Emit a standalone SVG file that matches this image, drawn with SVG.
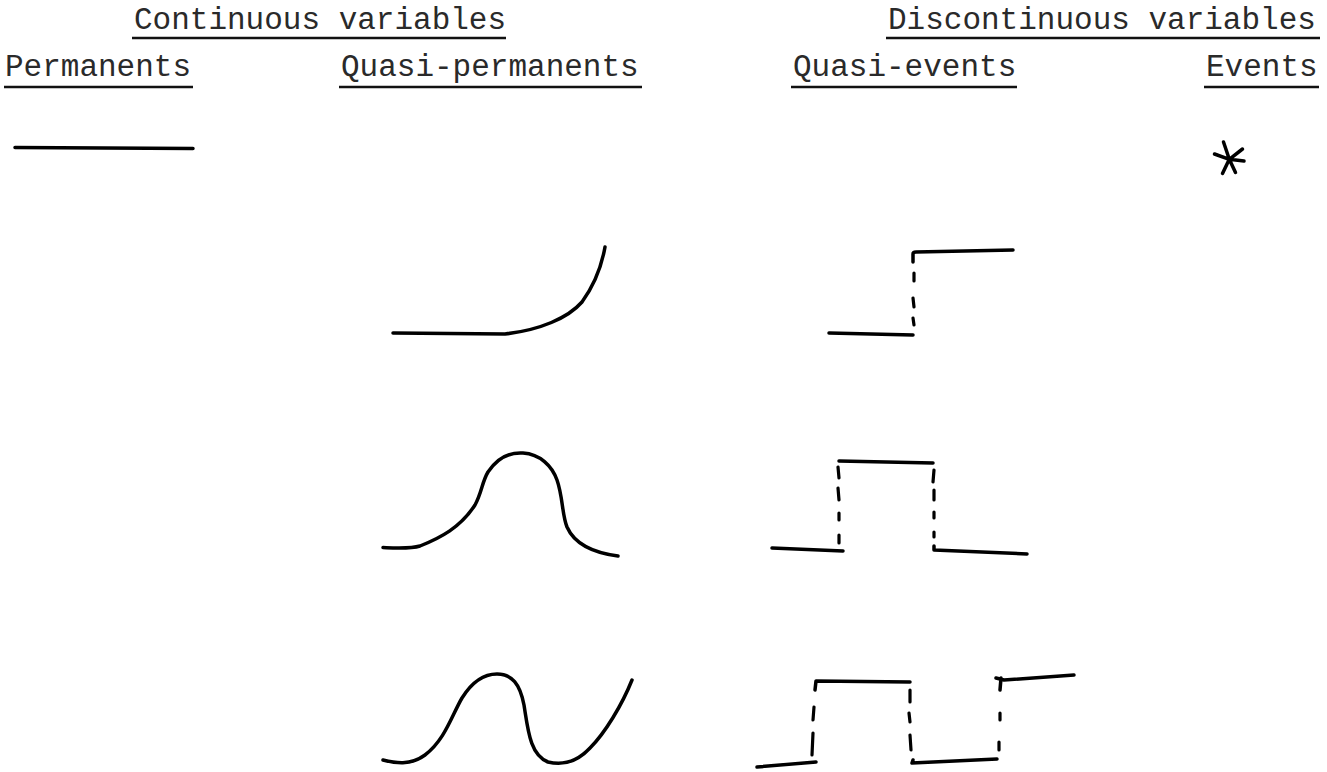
<svg xmlns="http://www.w3.org/2000/svg" width="1327" height="772" viewBox="0 0 1327 772">
<style>
.t{font-family:"Liberation Mono","Courier New",monospace;font-size:31px;fill:#2a2a2a}
.u{stroke:#111;stroke-width:2.6;fill:none}
.c{stroke:#000;stroke-width:3.5;fill:none;stroke-linecap:round;stroke-linejoin:round}
.d{stroke:#000;stroke-width:3.2;fill:none;stroke-linecap:round}
</style>
<rect width="1327" height="772" fill="#fff"/>
<g id="headers">
<text class="t" x="134" y="29">Continuous variables</text>
<line class="u" x1="132" y1="38" x2="506" y2="38"/>
<text class="t" x="888" y="29">Discontinuous variables</text>
<line class="u" x1="886" y1="38" x2="1320" y2="38"/>
<text class="t" x="5" y="76">Permanents</text>
<line class="u" x1="4" y1="87" x2="193" y2="87"/>
<text class="t" x="341" y="76">Quasi-permanents</text>
<line class="u" x1="339" y1="87" x2="642" y2="87"/>
<text class="t" x="793" y="76">Quasi-events</text>
<line class="u" x1="791" y1="87" x2="1017" y2="87"/>
<text class="t" x="1206" y="76">Events</text>
<line class="u" x1="1204" y1="87" x2="1319" y2="87"/>
</g>
<g id="permanent">
<path class="c" d="M15,147.5 L193,148.5" stroke-width="3"/>
</g>
<g id="event">
<path class="c" stroke-width="4.5" d="M1223.5,142 L1229.3,159.3 M1214.5,154 L1229.3,159.3 M1242.5,149 L1229.3,159.3 M1244,161 L1229.3,159.3 M1222.5,173.5 L1229.3,159.3 M1235.5,172.5 L1229.3,159.3"/>
</g>
<g id="quasi-permanent-1">
<path class="c" d="M393,333 L505,334 C540,330 568,318 582,302 C595,284 602,264 605,247"/>
</g>
<g id="quasi-permanent-2">
<path class="c" d="M383,547.5 C395,548 410,549 420,546 C440,538 460,528 475,505 C482,492 482,482 488,472 C496,460 508,452 523,453 C540,454 552,466 557,480 C563,497 562,515 567,527 C575,545 595,553 618,556"/>
</g>
<g id="quasi-permanent-3">
<path class="c" d="M383,760 C395,763 410,766 425,755 C445,740 452,715 462,698 C472,682 484,674 497,674 C512,674 520,684 524,705 C528,730 530,755 548,762 C560,765 575,764 590,748 C605,733 622,705 632,680"/>
</g>
<g id="quasi-event-1">
<path class="c" d="M829,333 L913,335"/>
<path class="c" d="M913,262 L913,254 Q913,252 916,252 L1013,250"/>
<path class="d" d="M914,273 L914,281 M913,298 L914,307 M913,318 L914,325"/>
</g>
<g id="quasi-event-2">
<path class="c" d="M772,548 L843,551"/>
<path class="c" d="M839,461 L933,463"/>
<path class="d" d="M838,467 L839,478 M838,488 L839,500 M839,513 L839,520 M839,535 L839,543"/>
<path class="d" d="M934,470 L933,482 M934,490 L934,500 M934,512 L934,518 M934,532 L934,537"/>
<path class="c" d="M934,546 L934,550 L1027,554"/>
</g>
<g id="quasi-event-3">
<path class="c" d="M757,767 L816,762"/>
<path class="c" d="M815,690 L816,681 L910,682"/>
<path class="d" d="M814,707 L813,720 M813,733 L812,755"/>
<path class="d" d="M910,690 L910,702 M909,713 L910,722 M910,735 L911,750"/>
<path class="c" d="M913,760 L912,763 L997,759"/>
<path class="d" d="M1000,713 L1000,720 M999,742 L999,750"/>
<path class="c" d="M1000,690 L1001,678 M996,678 L1004,680 L1074,675"/>
</g>
</svg>
